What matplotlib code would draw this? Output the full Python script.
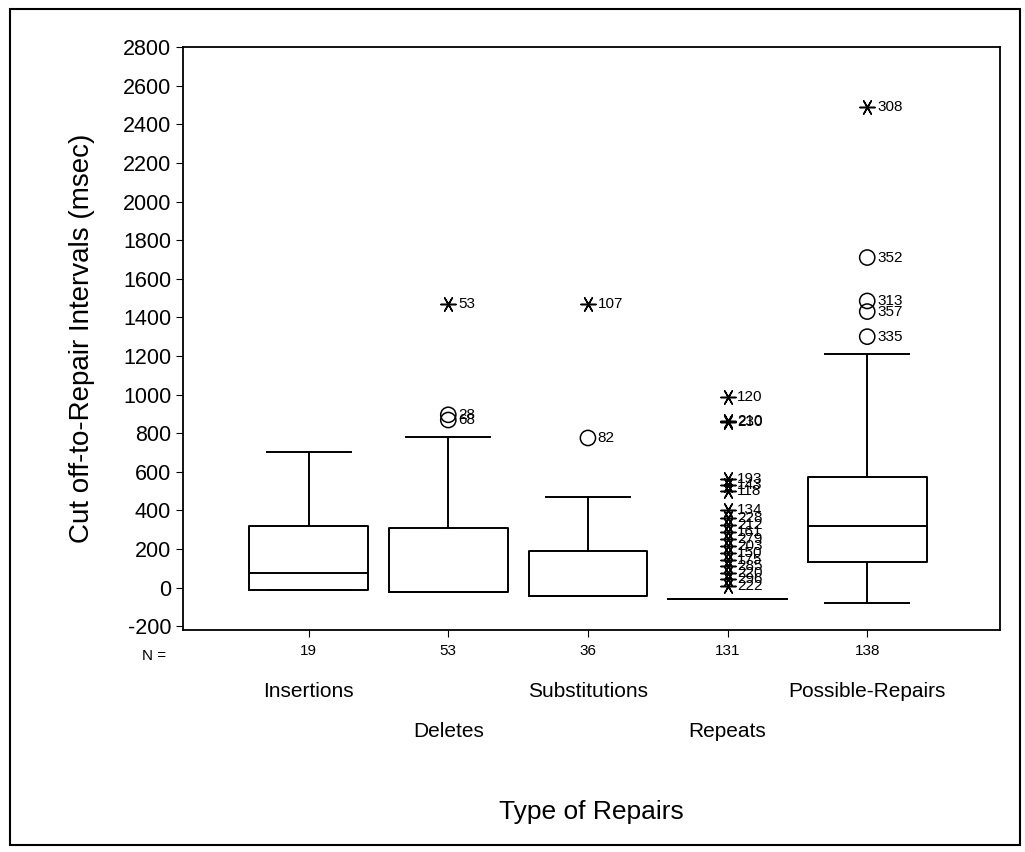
import numpy as np
import matplotlib.pyplot as plt
from matplotlib.patches import Rectangle

plt.rcParams['font.family'] = ['Liberation Sans', 'DejaVu Sans']
plt.rcParams['axes.unicode_minus'] = False

categories = ["Insertions", "Deletes", "Substitutions", "Repeats", "Possible-Repairs"]
n_counts = [19, 53, 36, 131, 138]

# box statistics (msec)
q1 = [-15, -25, -45, -60, 130]
med = [75, -25, -45, -60, 320]
q3 = [320, 310, 190, -60, 575]
whis_lo = [-15, -25, -45, -60, -80]
whis_hi = [700, 780, 470, -60, 1210]

# outliers (circles): group index, value, case label
out_group = [1, 1, 2, 4, 4, 4, 4]
out_value = [895, 868, 775, 1710, 1485, 1430, 1300]
out_label = ["28", "68", "82", "352", "313", "357", "335"]

# extremes (stars): group index, value, case label
ext_group = [1, 2, 3, 3, 3, 3, 3, 3, 3, 3, 3, 3, 3, 3, 3, 3, 3, 3, 3, 3, 4]
ext_value = [1470, 1470, 985, 862, 858, 562, 532, 500, 400, 360, 322, 288, 252,
             215, 180, 145, 110, 75, 42, 10, 2490]
ext_label = ["53", "107", "120", "210", "230", "193", "143", "118", "134", "228",
             "212", "161", "279", "203", "150", "175", "285", "220", "296", "222", "308"]

fig = plt.figure(figsize=(10.25, 8.52), dpi=100)
ax = fig.add_axes([0.1785, 0.2606, 0.797, 0.684])

positions = np.arange(1, len(categories) + 1)
stats = []
for i in range(len(categories)):
    stats.append(dict(q1=q1[i], med=med[i], q3=q3[i], whislo=whis_lo[i],
                      whishi=whis_hi[i], fliers=[]))

ax.bxp(stats, positions=positions, widths=0.85, capwidths=0.6, showfliers=False,
       boxprops=dict(color='black', linewidth=1.4),
       medianprops=dict(color='black', linewidth=1.4),
       whiskerprops=dict(color='black', linewidth=1.4),
       capprops=dict(color='black', linewidth=1.4))

ox = positions[np.array(out_group)]
ax.scatter(ox, out_value, s=120, facecolors='none', edgecolors='black', linewidths=1.1, zorder=3)
for x, v, lab in zip(ox, out_value, out_label):
    ax.text(x + 0.07, v, lab, fontsize=11, va='center', ha='left')

ex = positions[np.array(ext_group)]
ax.scatter(ex, ext_value, s=120, marker=(6, 2, 90), color='black', linewidths=1.1, zorder=3)
for x, v, lab in zip(ex, ext_value, ext_label):
    ax.text(x + 0.07, v, lab, fontsize=11, va='center', ha='left')

ax.set_xlim(0.1, 5.95)
ax.set_ylim(-220, 2800)
ax.set_yticks(np.arange(-200, 2801, 200))
ax.tick_params(axis='y', labelsize=15.5, length=5, direction='out')
ax.set_xticks(positions)
ax.set_xticklabels([str(n) for n in n_counts], fontsize=11)
ax.tick_params(axis='x', length=5, direction='out', pad=5)
for sp in ax.spines.values():
    sp.set_linewidth(1.3)

ax.text(-0.02, -0.045, "N =", transform=ax.transAxes, fontsize=11, ha='right', va='center')

for i, name in enumerate(categories):
    row_y = -0.105 if i % 2 == 0 else -0.175
    ax.text(positions[i], row_y, name, transform=ax.get_xaxis_transform(),
            fontsize=15, ha='center', va='center')

ax.set_xlabel("Type of Repairs", fontsize=19, labelpad=102)
ax.set_ylabel("Cut off-to-Repair Intervals (msec)", fontsize=20, labelpad=20)

fig.patches.append(Rectangle((0.01, 0.008), 0.985, 0.982, transform=fig.transFigure,
                             fill=False, edgecolor='black', linewidth=1.5))

fig.savefig("out.png", dpi=100)
